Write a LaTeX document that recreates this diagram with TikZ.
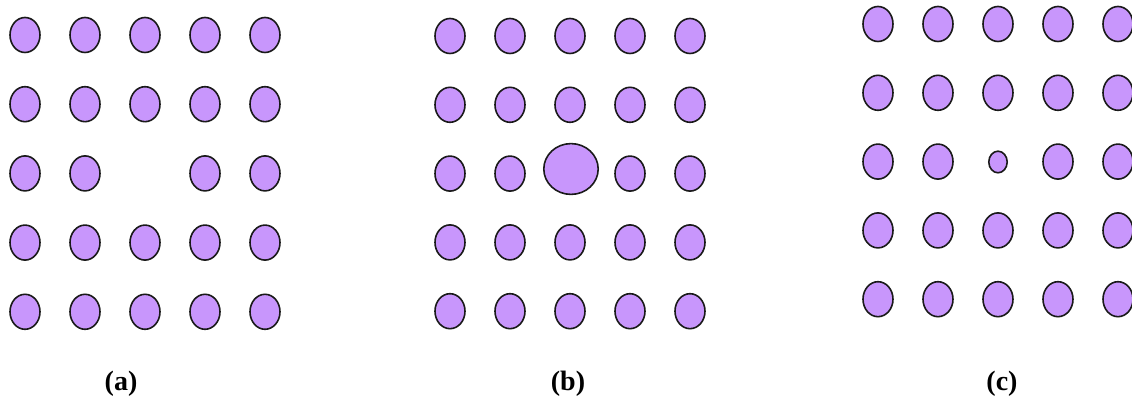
\documentclass[tikz,border=0pt]{standalone}
\usepackage{fontspec}
\setmainfont{Liberation Serif}
\definecolor{siteFill}{HTML}{C896FC}
\definecolor{siteInk}{HTML}{1A1A1A}
\tikzset{
  site/.style      ={draw=siteInk,fill=siteFill,line width=0.8pt},
  panellbl/.style  ={font=\fontsize{14}{16}\selectfont\bfseries,text=black,inner sep=0pt},
}
\begin{document}
\begin{tikzpicture}[x=0.5pt,y=-0.5pt]
\useasboundingbox (0,0) rectangle (1132,400);

% (a) vacancy: centre site missing
\foreach \i in {0,...,4}
  \foreach \j in {0,...,4}{
    \ifnum\numexpr5*\i+\j\relax=12\relax\else
      \draw[site] (25+60*\i,35+69.2*\j) ellipse [x radius=7.5pt,y radius=8.75pt];
    \fi
  }
\node[panellbl] (lblA) at (121,384) {(a)};

% (b) large substitutional site
\foreach \i in {0,...,4}
  \foreach \j in {0,...,4}{
    \ifnum\numexpr5*\i+\j\relax=12\relax\else
      \draw[site] (450+60*\i,36+68.8*\j) ellipse [x radius=7.5pt,y radius=8.75pt];
    \fi
  }
\draw[site] (571,169) ellipse [x radius=13.6pt,y radius=12.7pt];
\node[panellbl] (lblB) at (568,384) {(b)};

% (c) small substitutional site
\foreach \i in {0,...,4}
  \foreach \j in {0,...,4}{
    \ifnum\numexpr5*\i+\j\relax=12\relax\else
      \draw[site] (878+60*\i,24+68.8*\j) ellipse [x radius=7.5pt,y radius=8.75pt];
    \fi
  }
\draw[site] (998,162) ellipse [x radius=4.6pt,y radius=5.4pt];
\node[panellbl] (lblC) at (1002,384) {(c)};
\end{tikzpicture}
\end{document}
